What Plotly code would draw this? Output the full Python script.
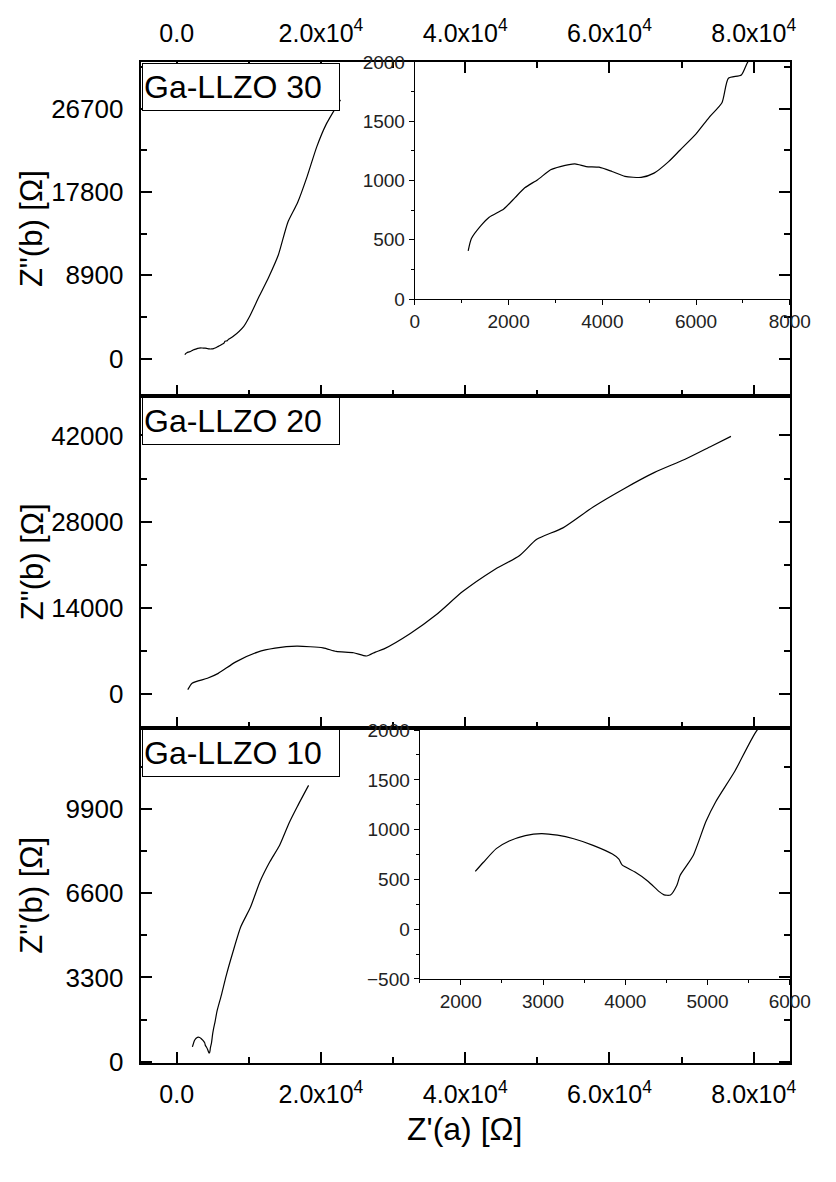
import plotly.graph_objects as go

# Nyquist data (Z' real part, Z'' imaginary part) for three Ga-LLZO samples
z30_re = [1138, 1207, 1414, 1586, 1897, 2138, 2345, 2621, 2897, 3103, 3414, 3655,
          3931, 4207, 4483, 4828, 5103, 5414, 5655, 6000, 6276, 6552, 6690, 6966,
          7104, 7800, 9300, 10100, 11400, 12750, 14100, 15400, 16750, 18100,
          19400, 20700, 22700]
z30_im = [406, 510, 621, 690, 759, 855, 938, 1007, 1090, 1117, 1140, 1117,
          1112, 1076, 1035, 1026, 1062, 1159, 1255, 1393, 1531, 1655, 1862, 1890,
          2000, 2350, 3450, 4500, 6600, 8700, 11100, 14550, 16650, 19500,
          22600, 25000, 27650]

z20_re = [1531, 2136, 4258, 5763, 8195, 11217, 13635, 16658, 20285, 22099, 24517,
          26330, 27539, 28748, 32389, 36016, 39643, 43875, 47502, 49920, 53547,
          57792, 62024, 66255, 70487, 74114, 76841]
z20_im = [748, 1798, 2593, 3389, 5250, 6841, 7478, 7796, 7526, 6953, 6730,
          6205, 6841, 7366, 9864, 12935, 16658, 20094, 22481, 25138, 27000,
          30436, 33363, 36004, 38136, 40252, 41843]

z10_re = [2176, 2275, 2431, 2588, 2784, 2980, 3176, 3373, 3608, 3843, 3922, 3961,
          4118, 4275, 4412, 4471, 4549, 4627, 4667, 4824, 4980, 5098, 5333, 5588,
          6193, 6865, 7765, 8880, 10223, 11566, 12910, 14253, 15597, 16725, 18283]
z10_im = [580, 672, 809, 885, 940, 960, 944, 908, 842, 754, 704, 645,
          573, 482, 377, 344, 344, 442, 541, 737, 1081, 1278, 1589, 1982,
          2612, 3377, 4271, 5289, 6053, 7074, 7839, 8478, 9369, 10007, 10834]

sample_names = ["Ga-LLZO 30", "Ga-LLZO 20", "Ga-LLZO 10"]

x_tickvals = [0, 20000, 40000, 60000, 80000]
x_ticktext = ["0.0", "2.0x10<sup>4</sup>", "4.0x10<sup>4</sup>",
              "6.0x10<sup>4</sup>", "8.0x10<sup>4</sup>"]
y_ticks_30 = [0, 8900, 17800, 26700]
y_ticks_20 = [0, 14000, 28000, 42000]
y_ticks_10 = [0, 3300, 6600, 9900]

FONT = "Liberation Sans, Arial, sans-serif"
W, H = 836, 1182

# panel geometry in pixels (left, right, top, bottom)
PX_L, PX_R = 140, 810
PANELS = [(53, 394), (394, 733), (733, 1075)]


def fx(px):
    return px / W


def fy(py):
    return 1 - py / H


fig = go.Figure()

line = dict(color="black", width=1.2, shape="spline", smoothing=0.6)
fig.add_trace(go.Scatter(x=z30_re, y=z30_im, mode="lines", line=line,
                         xaxis="x", yaxis="y", showlegend=False))
fig.add_trace(go.Scatter(x=z20_re, y=z20_im, mode="lines", line=line,
                         xaxis="x2", yaxis="y2", showlegend=False))
fig.add_trace(go.Scatter(x=z10_re, y=z10_im, mode="lines", line=line,
                         xaxis="x3", yaxis="y3", showlegend=False))
# zoomed insets of the high-frequency region
fig.add_trace(go.Scatter(x=z30_re, y=z30_im, mode="lines", line=line,
                         xaxis="x4", yaxis="y4", showlegend=False))
fig.add_trace(go.Scatter(x=z10_re, y=z10_im, mode="lines", line=line,
                         xaxis="x5", yaxis="y5", showlegend=False))

main_x = dict(range=[-5000, 85000], tickvals=x_tickvals, ticktext=x_ticktext,
              ticks="inside", ticklen=11, tickwidth=2, tickcolor="black",
              showline=True, linewidth=2, linecolor="black",
              showgrid=False, zeroline=False,
              minor=dict(tick0=0, dtick=10000, ticks="inside", ticklen=6,
                         tickwidth=2, tickcolor="black"),
              tickfont=dict(family=FONT, size=25, color="black"),
              ticklabelstandoff=8,
              domain=[fx(PX_L), fx(PX_R)])


def main_y(rng, vals, top, bottom):
    step = vals[1] - vals[0]
    return dict(range=rng, tickvals=vals, ticktext=[str(v) for v in vals],
                ticks="inside", ticklen=11,
                tickwidth=2, tickcolor="black", showline=True, linewidth=2,
                linecolor="black", mirror="allticks", showgrid=False,
                zeroline=False,
                minor=dict(tick0=0, dtick=step / 2, ticks="inside", ticklen=6,
                           tickwidth=2, tickcolor="black"),
                tickfont=dict(family=FONT, size=26, color="black"),
                ticklabelstandoff=10,
                domain=[fy(bottom), fy(top)])


inset_font = dict(family=FONT, size=19, color="#222")


def inset_axis(rng, dtick, minor, dom, tickvals=None):
    ax = dict(range=rng, ticks="outside", ticklen=5, tickwidth=1,
              tickcolor="black", showline=True, linewidth=1.2,
              linecolor="black", mirror=False, showgrid=False, zeroline=False,
              minor=dict(dtick=minor, tick0=0, ticks="outside", ticklen=3,
                         tickwidth=1, tickcolor="black"),
              tickfont=inset_font, domain=dom)
    if tickvals is not None:
        ax["tickvals"] = tickvals
    else:
        ax["dtick"] = dtick
        ax["tick0"] = 0
    return ax


fig.update_layout(
    width=W, height=H, autosize=False,
    margin=dict(l=0, r=0, t=0, b=0),
    paper_bgcolor="white", plot_bgcolor="rgba(0,0,0,0)",
    xaxis=dict(main_x, anchor="y", side="top", mirror="allticks"),
    xaxis2=dict(main_x, anchor="y2", showticklabels=False, mirror=True),
    xaxis3=dict(main_x, anchor="y3", mirror=True),
    yaxis=main_y([-4000, 31700], y_ticks_30, *PANELS[0]),
    yaxis2=main_y([-5500, 48400], y_ticks_20, *PANELS[1]),
    yaxis3=main_y([-60, 13080], y_ticks_10, *PANELS[2]),
    xaxis4=dict(inset_axis([0, 8000], 2000, 1000, [fx(423), fx(PX_R)]),
                anchor="y4"),
    yaxis4=dict(inset_axis([0, 2000], 500, 250, [fy(295), fy(53)]),
                anchor="x4"),
    xaxis5=dict(inset_axis([1500, 6000], 1000, 500, [fx(428), fx(PX_R)],
                           tickvals=[2000, 3000, 4000, 5000, 6000]),
                anchor="y5"),
    yaxis5=dict(inset_axis([-500, 2000], 500, 250, [fy(989), fy(735)]),
                anchor="x5"),
)

annotations = []
# sample name boxes in the top-left corner of each panel
for name, (top, bottom) in zip(sample_names, PANELS):
    annotations.append(dict(
        text=name, xref="paper", yref="paper", x=fx(PX_L + 1), y=fy(top + 1),
        xanchor="left", yanchor="top", showarrow=False, align="left",
        width=194, height=44, bgcolor="white", bordercolor="black",
        borderwidth=1, borderpad=1,
        font=dict(family=FONT, size=32, color="black")))

# y-axis titles, one per panel
for top, bottom in PANELS:
    annotations.append(dict(
        text="Z\"(b) [\u03a9]", xref="paper", yref="paper", x=fx(28),
        y=fy((top + bottom) / 2), xanchor="center", yanchor="middle",
        textangle=-90, showarrow=False,
        font=dict(family=FONT, size=31, color="black")))

# shared x-axis title
annotations.append(dict(
    text="Z'(a) [\u03a9]", xref="paper", yref="paper", x=fx(474), y=fy(1142),
    xanchor="center", yanchor="middle", showarrow=False,
    font=dict(family=FONT, size=32, color="black")))

fig.update_layout(annotations=annotations)

fig.write_html("out.html")
